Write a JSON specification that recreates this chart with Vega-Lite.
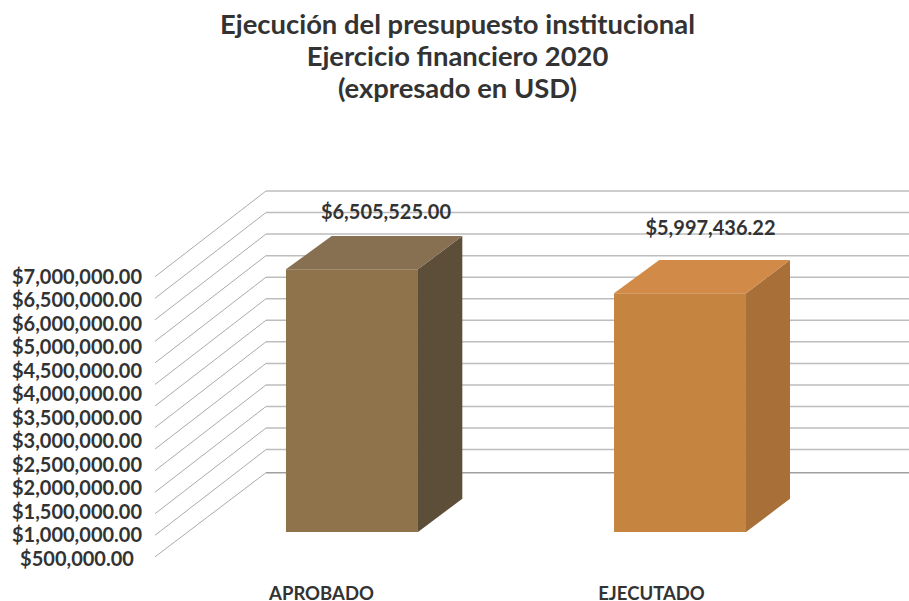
{
"$schema":"https://vega.github.io/schema/vega-lite/v6.json",
"width":909,"height":491,
"autosize":{"type":"none"},
"padding":{"left":0,"right":0,"top":110,"bottom":0},
"background":"white",
"title":{"text":["Ejecución del presupuesto institucional","Ejercicio financiero 2020","(expresado en USD)"],"font":"Lato","fontWeight":"bold","fontSize":27.4,"lineHeight":32,"color":"#333333","anchor":"middle","dx":3,"offset":7},
"config":{"view":{"stroke":null},"font":"Lato"},
"datasets":{
"grid":[
{"nivel":0,"xFrente":17.05,"xFondo":29.26,"xFin":100,"frente":6348864,"fondo":8163167},
{"nivel":1,"xFrente":17.05,"xFondo":29.26,"xFin":100,"frente":5892652,"fondo":7706955},
{"nivel":2,"xFrente":17.05,"xFondo":29.26,"xFin":100,"frente":5436440,"fondo":7250743},
{"nivel":3,"xFrente":17.05,"xFondo":29.26,"xFin":100,"frente":4980228,"fondo":6794531},
{"nivel":4,"xFrente":17.05,"xFondo":29.26,"xFin":100,"frente":4524016,"fondo":6338319},
{"nivel":5,"xFrente":17.05,"xFondo":29.26,"xFin":100,"frente":4067804,"fondo":5882107},
{"nivel":6,"xFrente":17.05,"xFondo":29.26,"xFin":100,"frente":3611592,"fondo":5425895},
{"nivel":7,"xFrente":17.05,"xFondo":29.26,"xFin":100,"frente":3155380,"fondo":4969683},
{"nivel":8,"xFrente":17.05,"xFondo":29.26,"xFin":100,"frente":2699168,"fondo":4513471},
{"nivel":9,"xFrente":17.05,"xFondo":29.26,"xFin":100,"frente":2242956,"fondo":4057259},
{"nivel":10,"xFrente":17.05,"xFondo":29.26,"xFin":100,"frente":1786744,"fondo":3601047},
{"nivel":11,"xFrente":17.05,"xFondo":29.26,"xFin":100,"frente":1330532,"fondo":3144835},
{"nivel":12,"xFrente":17.05,"xFondo":29.26,"xFin":100,"frente":874320,"fondo":2688623},
{"nivel":13,"xFrente":17.05,"xFondo":29.26,"xFin":100,"frente":418108,"fondo":2200000}
],
"barras":[
{"categoria":"APROBADO","valor":6505525.00,"base":944089,"xIzq":31.46,"xDer":45.98,"xEtiqueta":42.46,"yEtiqueta":7697000},
{"categoria":"EJECUTADO","valor":5997436.22,"base":944089,"xIzq":67.55,"xDer":82.07,"xEtiqueta":78.16,"yEtiqueta":7358700}
],
"lados":[
{"cara":"APROBADO lado","x":45.98,"bajo":944089,"alto":6505525},
{"cara":"APROBADO lado","x":50.86,"bajo":1649062,"alto":7210498},
{"cara":"EJECUTADO lado","x":82.07,"bajo":944089,"alto":5997436},
{"cara":"EJECUTADO lado","x":86.91,"bajo":1649062,"alto":6702409}
],
"tapas":[
{"cara":"APROBADO tapa","y":6505525,"xIzq":31.46,"xDer":45.98},
{"cara":"APROBADO tapa","y":7210498,"xIzq":36.49,"xDer":50.86},
{"cara":"EJECUTADO tapa","y":5997436,"xIzq":67.55,"xDer":82.07},
{"cara":"EJECUTADO tapa","y":6702409,"xIzq":72.53,"xDer":86.91}
],
"marcas":[
{"marca":"$7,000,000.00"},{"marca":"$6,500,000.00"},{"marca":"$6,000,000.00"},{"marca":"$5,000,000.00"},{"marca":"$4,500,000.00"},{"marca":"$4,000,000.00"},{"marca":"$3,500,000.00"},{"marca":"$3,000,000.00"},{"marca":"$2,500,000.00"},{"marca":"$2,000,000.00"},{"marca":"$1,500,000.00"},{"marca":"$1,000,000.00"},{"marca":"$500,000.00"}
]
},
"resolve":{"scale":{"x":"independent","y":"independent","color":"independent"},"axis":{"x":"independent","y":"independent"}},
"layer":[
{"data":{"name":"marcas"},"mark":{"type":"point","opacity":0},
 "encoding":{"y":{"field":"marca","type":"ordinal","sort":null,"scale":{"type":"point","padding":0,"range":[167,449]},
 "axis":{"title":null,"orient":"left","offset":-76.5,"ticks":false,"domain":false,"grid":false,"labelPadding":0,"labelAlign":"center","labelFont":"Lato","labelFontWeight":"bold","labelFontSize":20,"labelColor":"#333333"}}}},
{"data":{"name":"barras"},"mark":{"type":"point","opacity":0},
 "encoding":{"x":{"field":"categoria","type":"ordinal","scale":{"type":"point","padding":0,"range":[321,651]},
 "axis":{"title":null,"orient":"bottom","offset":-8,"ticks":false,"domain":false,"grid":false,"labelAngle":0,"labelPadding":0,"labelBaseline":"middle","labelFont":"Lato","labelFontWeight":"bold","labelFontSize":18.5,"labelColor":"#333333"}}}},
{"data":{"name":"grid"},"mark":{"type":"rule","stroke":"#ababab","strokeWidth":1},
 "encoding":{"x":{"field":"xFrente","type":"quantitative","scale":{"domain":[0,100]},"axis":null},"x2":{"field":"xFondo"},
 "y":{"field":"frente","type":"quantitative","scale":{"domain":[-516662,9877953]},"axis":null},"y2":{"field":"fondo"}}},
{"data":{"name":"grid"},"mark":{"type":"rule","strokeWidth":1.5},
 "encoding":{"x":{"field":"xFondo","type":"quantitative","scale":{"domain":[0,100]},"axis":null},"x2":{"field":"xFin"},
 "y":{"field":"fondo","type":"quantitative","scale":{"domain":[-516662,9877953]},"axis":null},
 "color":{"condition":{"test":"datum.nivel===13","value":"#a0a0a0"},"value":"#bdbdbd"}}},
{"data":{"name":"barras"},"mark":{"type":"rect"},
 "encoding":{"x":{"field":"xIzq","type":"quantitative","scale":{"domain":[0,100]},"axis":null},"x2":{"field":"xDer"},
 "y":{"field":"base","type":"quantitative","scale":{"domain":[-516662,9877953]},"axis":null},"y2":{"field":"valor"},
 "color":{"field":"categoria","type":"nominal","legend":null,"scale":{"domain":["APROBADO","EJECUTADO"],"range":["#8e734b","#c58440"]}}}},
{"data":{"name":"lados"},"mark":{"type":"area"},
 "encoding":{"x":{"field":"x","type":"quantitative","scale":{"domain":[0,100]},"axis":null},
 "y":{"field":"bajo","type":"quantitative","scale":{"domain":[-516662,9877953]},"axis":null},"y2":{"field":"alto"},
 "color":{"field":"cara","type":"nominal","legend":null,"scale":{"domain":["APROBADO lado","EJECUTADO lado"],"range":["#5c4e38","#a86f38"]}}}},
{"data":{"name":"tapas"},"mark":{"type":"area","orient":"horizontal"},
 "encoding":{"y":{"field":"y","type":"quantitative","scale":{"domain":[-516662,9877953]},"axis":null},
 "x":{"field":"xIzq","type":"quantitative","scale":{"domain":[0,100]},"axis":null},"x2":{"field":"xDer"},
 "color":{"field":"cara","type":"nominal","legend":null,"scale":{"domain":["APROBADO tapa","EJECUTADO tapa"],"range":["#876f52","#d28a48"]}}}},
{"data":{"name":"barras"},"mark":{"type":"text","font":"Lato","fontWeight":"bold","fontSize":20,"color":"#333333","align":"center","baseline":"middle"},
 "encoding":{"x":{"field":"xEtiqueta","type":"quantitative","scale":{"domain":[0,100]},"axis":null},
 "y":{"field":"yEtiqueta","type":"quantitative","scale":{"domain":[-516662,9877953]},"axis":null},
 "text":{"field":"valor","type":"quantitative","format":"$,.2f"}}}
]
}
